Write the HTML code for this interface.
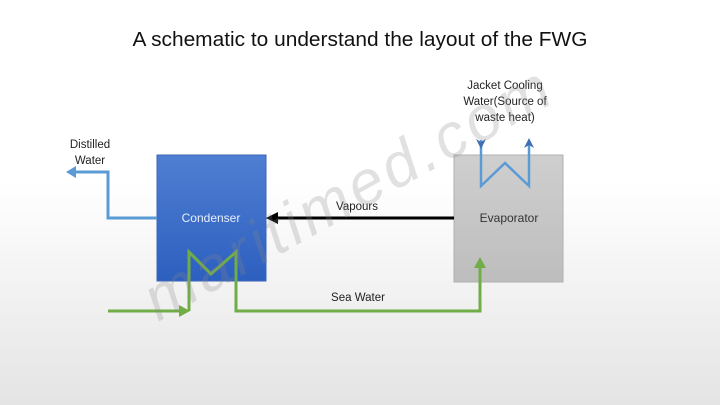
<!DOCTYPE html>
<html><head><meta charset="utf-8"><style>
html,body{margin:0;padding:0;}
body{width:720px;height:405px;overflow:hidden;background:linear-gradient(#ffffff 0%,#ffffff 45%,#e4e4e4 100%);}
svg{display:block;}
text{font-family:"Liberation Sans",sans-serif;}
</style></head><body>
<svg width="720" height="405" viewBox="0 0 720 405" xmlns="http://www.w3.org/2000/svg">
<defs>
<linearGradient id="cg" x1="0" y1="0" x2="0" y2="1"><stop offset="0" stop-color="#4f7fd2"/><stop offset="1" stop-color="#2d5fbf"/></linearGradient>
<linearGradient id="eg" x1="0" y1="0" x2="0" y2="1"><stop offset="0" stop-color="#cfcfcf"/><stop offset="1" stop-color="#bdbdbd"/></linearGradient>
</defs>
<text x="360" y="46" text-anchor="middle" font-size="20" fill="#111" textLength="455" lengthAdjust="spacingAndGlyphs">A schematic to understand the layout of the FWG</text>
<rect x="157" y="155" width="109" height="126" fill="url(#cg)" stroke="#3a66b8" stroke-width="1"/>
<text x="211" y="222" text-anchor="middle" font-size="12" fill="#e8eefa">Condenser</text>
<rect x="454" y="155" width="109" height="127" fill="url(#eg)" stroke="#b0b0b0" stroke-width="1"/>
<text x="509" y="222" text-anchor="middle" font-size="12" fill="#333">Evaporator</text>
<polyline points="157,218 108,218 108,172 74,172" fill="none" stroke="#5b9bd5" stroke-width="3"/>
<polygon points="66,172 76,166 76,178" fill="#5b9bd5"/>
<text x="90" y="148" text-anchor="middle" font-size="11.5" fill="#222">Distilled</text>
<text x="90" y="164" text-anchor="middle" font-size="11.5" fill="#222">Water</text>
<line x1="454" y1="218" x2="276" y2="218" stroke="#000" stroke-width="3"/>
<polygon points="266,218 278,212 278,224" fill="#000"/>
<text x="357" y="210" text-anchor="middle" font-size="11.5" fill="#222">Vapours</text>
<polyline points="108,311 180,311" fill="none" stroke="#70ad47" stroke-width="3"/>
<polygon points="190,311 179,305 179,317" fill="#70ad47"/>
<polyline points="189,311 189,252 211,274 236,252 236,311 480,311 480,266" fill="none" stroke="#70ad47" stroke-width="3"/>
<polygon points="480,257 474,268 486,268" fill="#70ad47"/>
<text x="358" y="301" text-anchor="middle" font-size="11.5" fill="#222">Sea Water</text>
<polyline points="481,140 481,186 505,163 529,186 529,145" fill="none" stroke="#5b9bd5" stroke-width="2.5"/>
<polygon points="481,149 476,139 481,142 486,139" fill="#3e6fb0"/>
<polygon points="529,138 524,148 529,145 534,148" fill="#3e6fb0"/>
<text x="505" y="89" text-anchor="middle" font-size="11.5" fill="#222">Jacket Cooling</text>
<text x="505" y="105" text-anchor="middle" font-size="11.5" fill="#222">Water(Source of</text>
<text x="505" y="121" text-anchor="middle" font-size="11.5" fill="#222">waste heat)</text>
<text x="0" y="0" transform="translate(158,322) rotate(-29)" font-size="62" font-style="italic" fill="#888" fill-opacity="0.25" letter-spacing="4">maritimed.com</text>
</svg>
</body></html>
